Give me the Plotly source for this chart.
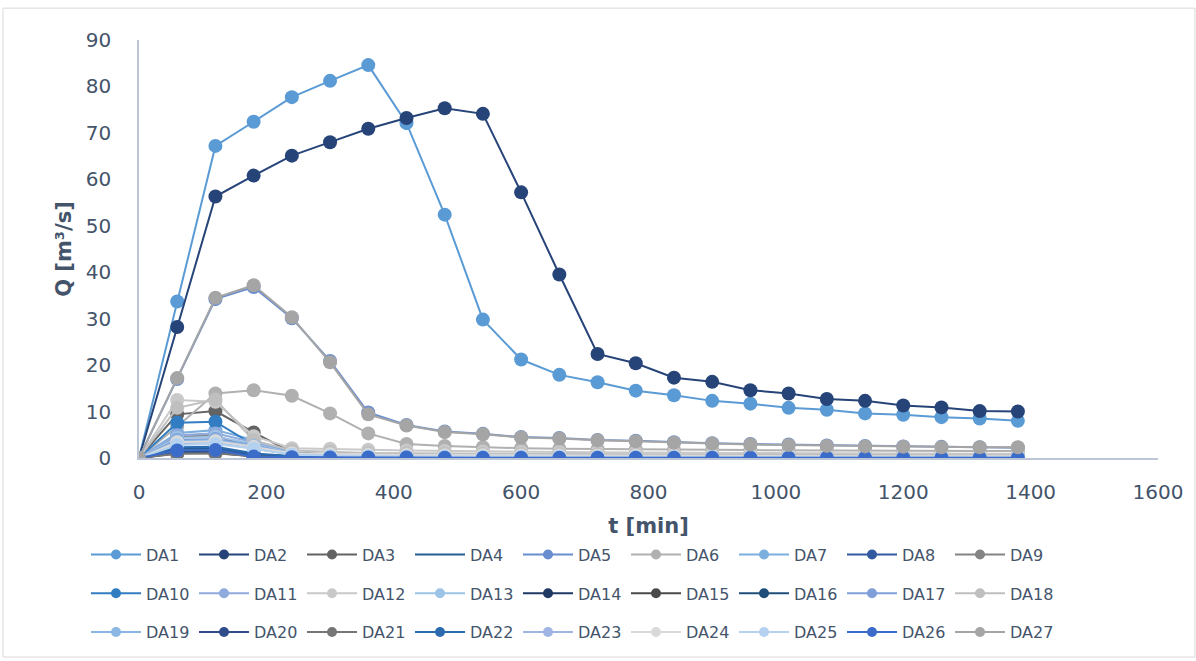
import plotly.graph_objects as go

t = [0, 60, 120, 180, 240, 300, 360, 420, 480, 540, 600, 660, 720, 780, 840, 900, 960, 1020, 1080, 1140, 1200, 1260, 1320, 1380]

DA1 = [0, 33.7, 67.2, 72.4, 77.7, 81.2, 84.6, 72.1, 52.4, 29.8, 21.2, 17.9, 16.3, 14.5, 13.5, 12.3, 11.7, 10.8, 10.4, 9.6, 9.3, 8.8, 8.5, 8.0]
DA2 = [0, 28.2, 56.3, 60.8, 65.1, 68.0, 70.9, 73.2, 75.3, 74.1, 57.2, 39.5, 22.4, 20.4, 17.3, 16.4, 14.6, 13.9, 12.7, 12.3, 11.3, 10.9, 10.1, 10.0]
DA3 = [0, 9.4, 10.1, 5.5, 1.2, 0.8, 0.6, 0.5, 0.45, 0.4, 0.4, 0.35, 0.35, 0.3, 0.3, 0.3, 0.25, 0.25, 0.25, 0.2, 0.2, 0.2, 0.2, 0.2]
DA4 = [0, 2.0, 2.1, 0.8, 0.4, 0.3, 0.25, 0.2, 0.2, 0.2, 0.15, 0.15, 0.15, 0.15, 0.1, 0.1, 0.1, 0.1, 0.1, 0.1, 0.1, 0.1, 0.1, 0.1]
DA5 = [0, 17.0, 34.2, 36.8, 30.1, 20.9, 9.8, 7.1, 5.7, 5.2, 4.5, 4.3, 3.9, 3.7, 3.4, 3.2, 3.0, 2.9, 2.7, 2.6, 2.5, 2.4, 2.3, 2.2]
DA6 = [0, 6.8, 13.9, 14.6, 13.4, 9.6, 5.3, 3.0, 2.6, 2.3, 2.1, 2.0, 1.9, 1.85, 1.8, 1.75, 1.7, 1.65, 1.6, 1.6, 1.55, 1.55, 1.5, 1.5]
DA7 = [0, 5.4, 6.0, 3.9, 1.1, 0.7, 0.5, 0.45, 0.4, 0.4, 0.35, 0.35, 0.3, 0.3, 0.3, 0.3, 0.25, 0.25, 0.25, 0.25, 0.2, 0.2, 0.2, 0.2]
DA8 = [0, 1.6, 1.8, 0.6, 0.3, 0.25, 0.2, 0.2, 0.15, 0.15, 0.15, 0.1, 0.1, 0.1, 0.1, 0.1, 0.1, 0.1, 0.1, 0.1, 0.1, 0.1, 0.1, 0.1]
DA9 = [0, 4.6, 4.9, 2.0, 0.8, 0.6, 0.5, 0.4, 0.4, 0.35, 0.35, 0.3, 0.3, 0.3, 0.25, 0.25, 0.25, 0.25, 0.2, 0.2, 0.2, 0.2, 0.2, 0.2]
DA10 = [0, 7.6, 7.8, 2.8, 0.9, 0.6, 0.5, 0.4, 0.35, 0.3, 0.3, 0.25, 0.25, 0.25, 0.2, 0.2, 0.2, 0.2, 0.2, 0.15, 0.15, 0.15, 0.15, 0.15]
DA11 = [0, 4.9, 5.3, 3.4, 1.0, 0.65, 0.5, 0.4, 0.4, 0.35, 0.35, 0.3, 0.3, 0.3, 0.25, 0.25, 0.25, 0.2, 0.2, 0.2, 0.2, 0.2, 0.2, 0.2]
DA12 = [0, 12.5, 12.1, 4.7, 2.1, 2.0, 1.8, 1.6, 1.5, 1.4, 1.35, 1.3, 1.25, 1.2, 1.15, 1.1, 1.1, 1.05, 1.0, 1.0, 0.95, 0.95, 0.9, 0.9]
DA13 = [0, 4.3, 4.6, 3.1, 0.9, 0.6, 0.45, 0.4, 0.35, 0.35, 0.3, 0.3, 0.3, 0.25, 0.25, 0.25, 0.2, 0.2, 0.2, 0.2, 0.2, 0.2, 0.15, 0.15]
DA14 = [0, 1.2, 1.3, 0.4, 0.2, 0.15, 0.15, 0.1, 0.1, 0.1, 0.1, 0.1, 0.1, 0.1, 0.05, 0.05, 0.05, 0.05, 0.05, 0.05, 0.05, 0.05, 0.05, 0.05]
DA15 = [0, 1.0, 1.1, 0.4, 0.2, 0.15, 0.1, 0.1, 0.1, 0.1, 0.1, 0.1, 0.1, 0.05, 0.05, 0.05, 0.05, 0.05, 0.05, 0.05, 0.05, 0.05, 0.05, 0.05]
DA16 = [0, 1.4, 1.5, 0.5, 0.25, 0.2, 0.15, 0.15, 0.1, 0.1, 0.1, 0.1, 0.1, 0.1, 0.1, 0.1, 0.1, 0.1, 0.05, 0.05, 0.05, 0.05, 0.05, 0.05]
DA17 = [0, 3.9, 4.1, 2.8, 0.8, 0.55, 0.45, 0.4, 0.35, 0.3, 0.3, 0.3, 0.25, 0.25, 0.25, 0.2, 0.2, 0.2, 0.2, 0.2, 0.15, 0.15, 0.15, 0.15]
DA18 = [0, 10.8, 12.6, 3.8, 1.6, 1.3, 1.1, 1.0, 0.95, 0.9, 0.85, 0.8, 0.8, 0.75, 0.75, 0.7, 0.7, 0.7, 0.65, 0.65, 0.6, 0.6, 0.6, 0.6]
DA19 = [0, 3.6, 3.8, 2.6, 0.8, 0.5, 0.4, 0.35, 0.3, 0.3, 0.3, 0.25, 0.25, 0.25, 0.2, 0.2, 0.2, 0.2, 0.2, 0.15, 0.15, 0.15, 0.15, 0.15]
DA20 = [0, 1.1, 1.2, 0.4, 0.2, 0.15, 0.1, 0.1, 0.1, 0.1, 0.1, 0.1, 0.05, 0.05, 0.05, 0.05, 0.05, 0.05, 0.05, 0.05, 0.05, 0.05, 0.05, 0.05]
DA21 = [0, 0.9, 1.0, 0.35, 0.2, 0.15, 0.1, 0.1, 0.1, 0.1, 0.1, 0.05, 0.05, 0.05, 0.05, 0.05, 0.05, 0.05, 0.05, 0.05, 0.05, 0.05, 0.05, 0.05]
DA22 = [0, 2.3, 2.4, 1.0, 0.45, 0.35, 0.3, 0.25, 0.2, 0.2, 0.2, 0.2, 0.15, 0.15, 0.15, 0.15, 0.15, 0.1, 0.1, 0.1, 0.1, 0.1, 0.1, 0.1]
DA23 = [0, 3.2, 3.4, 2.3, 0.7, 0.5, 0.4, 0.35, 0.3, 0.3, 0.25, 0.25, 0.25, 0.2, 0.2, 0.2, 0.2, 0.2, 0.15, 0.15, 0.15, 0.15, 0.15, 0.15]
DA24 = [0, 3.4, 3.6, 2.4, 1.0, 0.8, 0.7, 0.65, 0.6, 0.6, 0.55, 0.55, 0.5, 0.5, 0.5, 0.45, 0.45, 0.45, 0.45, 0.4, 0.4, 0.4, 0.4, 0.4]
DA25 = [0, 2.8, 3.0, 2.0, 0.7, 0.45, 0.35, 0.3, 0.3, 0.25, 0.25, 0.25, 0.2, 0.2, 0.2, 0.2, 0.2, 0.15, 0.15, 0.15, 0.15, 0.15, 0.15, 0.15]
DA26 = [0, 1.6, 1.7, 0.3, 0.15, 0.1, 0.1, 0.1, 0.05, 0.05, 0.05, 0.05, 0.05, 0.05, 0.05, 0.05, 0.05, 0.05, 0.05, 0.05, 0.05, 0.05, 0.05, 0.05]
DA27 = [0, 17.2, 34.5, 37.2, 30.3, 20.6, 9.4, 7.0, 5.6, 5.1, 4.4, 4.2, 3.8, 3.6, 3.3, 3.1, 2.9, 2.8, 2.6, 2.5, 2.4, 2.3, 2.3, 2.3]

names = ["DA%d" % i for i in range(1, 28)]
series = [DA1, DA2, DA3, DA4, DA5, DA6, DA7, DA8, DA9, DA10, DA11, DA12, DA13, DA14,
          DA15, DA16, DA17, DA18, DA19, DA20, DA21, DA22, DA23, DA24, DA25, DA26, DA27]
colors = ["#5B9BD5", "#264478", "#636363", "#255E91", "#698ED0", "#B0B0B0", "#7CAFDD",
          "#335AA1", "#848484", "#327DC2", "#8FAADC", "#C9C9C9", "#9DC3E6", "#203864",
          "#4A4A4A", "#1E4E79", "#7F9FD8", "#BFBFBF", "#8AB7E3", "#2F4D8C", "#767676",
          "#2B6CB0", "#A0B5E3", "#D9D9D9", "#B4D2F0", "#3B6CC9", "#A5A5A5"]

FONT = "DejaVu Sans"
TXT = "#44546A"

fig = go.Figure()
for i, (n, s, c) in enumerate(zip(names, series, colors)):
    mode = "lines" if n == "DA4" else "lines+markers"
    fig.add_trace(go.Scatter(
        x=t, y=s, name=n, mode=mode, legendgroup=n, showlegend=False,
        line=dict(color=c, width=2),
        marker=dict(color=c, size=14, symbol="circle"),
    ))
# legend entries (smaller symbols, as in the reference legend)
for i, (n, c) in enumerate(zip(names, colors)):
    row = i // 9
    leg = "legend" if row == 0 else ("legend%d" % (row + 1))
    mode = "lines" if n == "DA4" else "lines+markers"
    fig.add_trace(go.Scatter(
        x=[None], y=[None], name=n, mode=mode, legendgroup=n, legend=leg,
        line=dict(color=c, width=2), marker=dict(color=c, size=10),
    ))

L, R, T, B = 139, 38, 40, 201
W, H = 1196, 661
pw, ph = W - L - R, H - T - B

def px_to_paper_x(px):
    return (px - L) / pw

def px_to_paper_y(py):
    return (H - B - py) / ph

legend_common = dict(orientation="h", xanchor="left", yanchor="middle",
                     font=dict(family=FONT, size=16, color=TXT),
                     entrywidth=43, entrywidthmode="pixels", itemwidth=50,
                     bgcolor="rgba(0,0,0,0)", itemsizing="trace")

fig.update_layout(
    width=W, height=H,
    margin=dict(l=L, r=R, t=T, b=B),
    paper_bgcolor="white", plot_bgcolor="white",
    font=dict(family=FONT, color=TXT),
    showlegend=True,
    legend=dict(x=px_to_paper_x(86), y=px_to_paper_y(557), **legend_common),
    legend2=dict(x=px_to_paper_x(86), y=px_to_paper_y(596), **legend_common),
    legend3=dict(x=px_to_paper_x(86), y=px_to_paper_y(635), **legend_common),
    xaxis=dict(range=[0, 1600], tick0=0, dtick=200, showgrid=False, zeroline=False,
               showline=True, linecolor="#BCC6D6", linewidth=1.5, ticks="",
               tickfont=dict(family=FONT, size=20, color=TXT), ticklabelstandoff=15,
               title=dict(text="<b>t [min]</b>", font=dict(family=FONT, size=21, color=TXT), standoff=16)),
    yaxis=dict(range=[0, 90], tick0=0, dtick=10, showgrid=False, zeroline=False,
               showline=True, linecolor="#BCC6D6", linewidth=1.5, ticks="",
               tickfont=dict(family=FONT, size=20, color=TXT), ticklabelstandoff=22,
               title=dict(text="<b>Q [m³/s]</b>", font=dict(family=FONT, size=21, color=TXT), standoff=8)),
    shapes=[dict(type="rect", xref="paper", yref="paper",
                 x0=px_to_paper_x(3), x1=px_to_paper_x(1195),
                 y0=px_to_paper_y(660), y1=px_to_paper_y(8),
                 line=dict(color="#D9D9D9", width=1), fillcolor="rgba(0,0,0,0)", layer="below")],
)

fig.write_html("out.html")
